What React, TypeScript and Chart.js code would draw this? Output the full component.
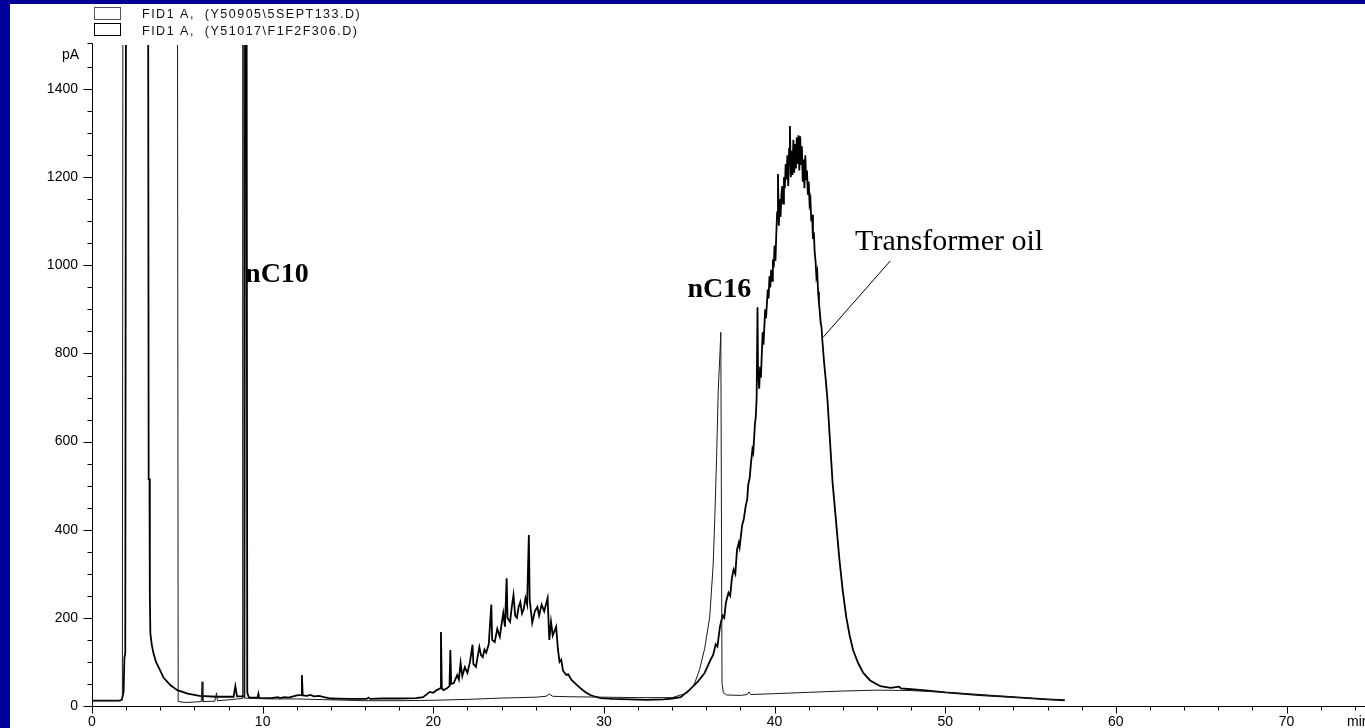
import React, { useEffect, useRef } from 'react';
import { Chart, registerables } from 'chart.js';

Chart.register(...registerables);

// Off-scale (detector trace leaves the plotted range)
const OFF = 2000;

// ---- Trace 1: FID1 A, (Y50905\5SEPT133.D) — [min, pA]
const traceAEarly: [number, number][] = [
  [0, 12], [1.7, 12], [1.78, 20], [1.82, OFF], [5.0, OFF], [5.05, 10], [5.5, 8], [6.0, 9],
  [6.4, 10], [6.45, 55], [6.5, 10], [7.2, 11], [7.3, 30], [7.35, 12], [8.0, 14], [8.5, 16],
  [8.8, 17], [8.83, OFF], [8.88, OFF], [8.92, 18], [9.5, 17], [10.5, 16], [12, 16], [14, 14],
  [16, 12], [18, 12],
];
const traceAMid: [number, number][] = [
  [20, 13], [22, 15], [24, 18], [25, 19], [26, 20], [26.6, 22], [26.8, 27], [27.0, 22],
  [28, 21], [30, 20], [32, 19], [34, 19], [34.9, 30], [35.3, 50], [35.6, 82], [35.9, 130],
  [36.2, 202], [36.4, 320], [36.5, 430], [36.6, 560], [36.7, 718], [36.8, 800], [36.85, 848],
  [36.88, 500], [36.92, 52], [37.0, 30], [37.2, 25],
];
const traceALate: [number, number][] = [
  [38.0, 24], [38.4, 26], [38.5, 32], [38.6, 26], [40, 28], [42, 31], [44, 34], [46, 36],
  [48, 35], [50, 31], [52, 25], [54, 20], [56, 15], [57, 13],
];

// ---- Trace 2: FID1 A, (Y51017\F1F2F306.D) — [min, pA]
const traceBEarly: [number, number][] = [
  [0, 12], [1.6, 12], [1.75, 14], [1.85, 32], [1.9, 110], [1.95, 120], [2.0, OFF], [3.28, OFF],
  [3.32, 515], [3.37, 515], [3.39, 250], [3.42, 165], [3.5, 140], [3.6, 120], [3.75, 100],
  [3.9, 88], [4.2, 64], [4.6, 47], [5.0, 36], [5.6, 28], [6.3, 23], [7.3, 21], [8.3, 21],
  [8.4, 45], [8.5, 22], [8.93, 22], [8.98, OFF], [9.05, OFF], [9.1, 30], [9.2, 19], [9.7, 19],
  [9.75, 28], [9.8, 18], [10.5, 18], [10.9, 20], [11.0, 18], [11.3, 20], [11.5, 19], [11.8, 22],
  [12.0, 24], [12.25, 25], [12.3, 70], [12.35, 24], [12.6, 23], [12.8, 25], [13.0, 22],
  [13.3, 23], [13.6, 20], [14.0, 17], [15, 16], [16.1, 16], [16.2, 19], [16.3, 16], [17, 17],
  [18, 17], [19, 18], [19.4, 20],
];
const traceBUcm: [number, number][] = [
  [19.8, 32], [20.0, 30], [20.2, 36], [20.4, 40], [20.45, 168], [20.5, 40], [20.6, 36],
  [20.8, 40], [20.95, 45], [21.0, 127], [21.05, 50], [21.2, 52], [21.4, 70], [21.5, 60],
  [21.6, 98], [21.7, 68], [21.85, 88], [22.0, 75], [22.15, 100], [22.3, 139], [22.35, 95],
  [22.5, 89], [22.6, 112], [22.7, 134], [22.8, 115], [22.9, 111], [23.0, 128], [23.1, 121],
  [23.25, 140], [23.4, 230], [23.45, 150], [23.6, 145], [23.75, 175], [23.9, 157], [24.0, 185],
  [24.1, 211], [24.2, 180], [24.3, 290], [24.35, 200], [24.5, 191], [24.6, 225], [24.7, 252],
  [24.8, 205], [24.9, 200], [25.0, 225], [25.1, 236], [25.2, 210], [25.3, 220], [25.4, 245],
  [25.5, 230], [25.6, 388], [25.65, 240], [25.8, 189], [25.95, 215], [26.1, 225], [26.2, 205],
  [26.35, 230], [26.5, 215], [26.7, 245], [26.8, 150], [26.9, 191], [27.0, 160], [27.2, 180],
  [27.3, 130], [27.4, 100], [27.5, 105], [27.6, 80], [27.8, 70], [27.9, 72], [28.1, 59],
  [28.3, 52], [28.6, 41], [28.9, 32], [29.2, 25], [29.5, 21], [29.8, 18],
];
const traceBBase: [number, number][] = [
  [30.5, 16], [31.5, 15], [32.5, 14], [33.5, 15], [34.0, 17], [34.5, 20],
];
const traceBOil: [number, number][] = [
  [35.0, 36], [35.5, 55], [35.9, 75], [36.1, 92], [36.25, 105], [36.4, 116], [36.55, 140],
  [36.65, 135], [36.8, 180], [36.95, 205], [37.05, 200], [37.15, 235], [37.3, 257], [37.4, 250],
  [37.5, 290], [37.6, 310], [37.7, 300], [37.8, 355], [37.9, 370], [37.95, 360], [38.1, 410],
  [38.2, 425], [38.3, 452], [38.4, 470], [38.45, 500], [38.55, 520], [38.6, 545], [38.7, 582],
  [38.75, 575], [38.85, 640], [38.9, 657], [38.95, 700], [39.0, 905], [39.03, 760], [39.1, 720],
  [39.15, 770], [39.2, 745], [39.3, 848], [39.35, 820], [39.45, 900], [39.5, 880], [39.6, 945],
  [39.65, 925], [39.7, 975], [39.75, 950], [39.8, 990], [39.85, 965], [39.9, 1013],
  [39.95, 995], [40.0, 1045], [40.05, 1010], [40.1, 1070], [40.15, 1120], [40.2, 1207],
  [40.25, 1090], [40.3, 1150], [40.35, 1110], [40.4, 1160], [40.45, 1180], [40.5, 1140],
  [40.55, 1200], [40.6, 1175], [40.65, 1230], [40.7, 1195], [40.75, 1250], [40.8, 1180],
  [40.85, 1265], [40.9, 1316], [40.95, 1200], [41.0, 1260], [41.05, 1205], [41.1, 1285],
  [41.15, 1210], [41.2, 1275], [41.25, 1220], [41.3, 1290], [41.35, 1230], [41.4, 1295],
  [41.45, 1215], [41.5, 1293], [41.55, 1230], [41.6, 1270], [41.65, 1190], [41.7, 1240],
  [41.75, 1175], [41.8, 1250], [41.85, 1195], [41.9, 1215], [41.95, 1160], [42.0, 1190],
  [42.05, 1140], [42.1, 1150], [42.15, 1100], [42.2, 1115], [42.25, 1060], [42.3, 1075],
  [42.35, 1030], [42.4, 1010], [42.45, 975], [42.5, 985], [42.55, 940], [42.6, 915],
  [42.65, 895], [42.7, 870], [42.75, 860], [42.8, 830], [42.9, 780], [43.0, 740], [43.1, 695],
  [43.25, 600], [43.4, 507], [43.6, 420], [43.8, 332], [44.0, 260], [44.2, 202], [44.4, 160],
  [44.6, 127], [44.9, 97], [45.2, 75], [45.6, 58], [46.2, 45],
];
const traceBTail: [number, number][] = [
  [46.8, 41], [47.3, 44], [47.4, 40], [48.0, 38], [49, 35], [50, 31], [52, 25], [54, 20],
  [56, 15], [57, 13],
];

// Axis labels
const xTickLabels = [0, 10, 20, 30, 40, 50, 60, 70];
const yTickLabels = [0, 200, 400, 600, 800, 1000, 1200, 1400];
const legendLabels = ['FID1 A,  (Y50905\\5SEPT133.D)', 'FID1 A,  (Y51017\\F1F2F306.D)'];
const peakNames = ['nC10', 'nC16'];
const oilLabel = 'Transformer oil';

const toXY = (pts: [number, number][]) => pts.map(([x, y]) => ({ x, y }));

const SANS = "Arial, 'Liberation Sans', sans-serif";
const SERIF = "'Times New Roman', 'Liberation Serif', serif";

const decorPlugin = {
  id: 'decor',
  afterDraw(chart: any) {
    const { ctx, chartArea, scales } = chart;
    const xs = scales.x;
    const ys = scales.y;
    ctx.save();
    ctx.strokeStyle = '#000';
    ctx.fillStyle = '#000';
    ctx.lineWidth = 1;

    // axes
    const ax = Math.round(chartArea.left) + 0.5;
    const ay = Math.round(chartArea.bottom) + 0.5;
    ctx.beginPath();
    ctx.moveTo(ax, Math.round(chartArea.top) - 1.5);
    ctx.lineTo(ax, ay);
    ctx.lineTo(chart.width, ay);
    ctx.stroke();

    // y ticks every 50
    ctx.beginPath();
    for (let v = 0; v <= 1500; v += 50) {
      const py = Math.round(ys.getPixelForValue(v)) + 0.5 - (v === 1500 ? 2 : 0);
      const len = v % 200 === 0 ? 9 : 5;
      ctx.moveTo(ax - len, py);
      ctx.lineTo(ax, py);
    }
    // x ticks every 2
    for (let v = 0; v <= 74; v += 2) {
      const px = Math.round(xs.getPixelForValue(v)) + 0.5;
      const len = v % 10 === 0 ? 7 : 4;
      ctx.moveTo(px, ay);
      ctx.lineTo(px, ay + len);
    }
    ctx.stroke();

    // unit labels
    ctx.font = `14px ${SANS}`;
    ctx.textBaseline = 'middle';
    ctx.textAlign = 'right';
    ctx.fillText('pA', chartArea.left - 13, chartArea.top + 10);
    ctx.textAlign = 'left';
    ctx.fillText('min', 1337, chartArea.bottom + 16.5);

    // legend
    (ctx as any).letterSpacing = '1.5px';
    ctx.font = `12.5px ${SANS}`;
    ctx.textBaseline = 'alphabetic';
    ctx.strokeStyle = '#555';
    ctx.strokeRect(84.5, 3.5, 26, 12);
    ctx.strokeStyle = '#000';
    ctx.strokeRect(84.5, 19.5, 26, 12);
    ctx.fillStyle = '#111';
    ctx.fillText(legendLabels[0], 132, 14);
    ctx.fillText(legendLabels[1], 132, 31);
    (ctx as any).letterSpacing = '0px';

    // peak annotations
    ctx.fillStyle = '#000';
    ctx.font = `bold 28px ${SERIF}`;
    ctx.fillText(peakNames[0], xs.getPixelForValue(8.97), ys.getPixelForValue(962));
    ctx.fillText(peakNames[1], xs.getPixelForValue(34.9), ys.getPixelForValue(928));
    ctx.font = `30px ${SERIF}`;
    ctx.fillText(oilLabel, xs.getPixelForValue(44.72), ys.getPixelForValue(1035));

    // leader line
    ctx.lineWidth = 1;
    ctx.beginPath();
    ctx.moveTo(xs.getPixelForValue(46.78), ys.getPixelForValue(1010));
    ctx.lineTo(xs.getPixelForValue(42.85), ys.getPixelForValue(837));
    ctx.stroke();
    ctx.restore();
  },
};

export default function App() {
  const ref = useRef<HTMLCanvasElement>(null);

  useEffect(() => {
    const canvas = ref.current;
    if (!canvas) return;
    const chart = new Chart(canvas, {
      type: 'line',
      data: {
        datasets: [
          {
            label: legendLabels[0],
            data: toXY([...traceAEarly, ...traceAMid, ...traceALate]),
            borderColor: '#1a1a1a',
            borderWidth: 1,
            pointRadius: 0,
            tension: 0,
            fill: false,
          },
          {
            label: legendLabels[1],
            data: toXY([...traceBEarly, ...traceBUcm, ...traceBBase, ...traceBOil, ...traceBTail]),
            borderColor: '#000',
            borderWidth: 1.8,
            pointRadius: 0,
            tension: 0,
            fill: false,
          },
        ],
      },
      options: {
        animation: false,
        responsive: false,
        devicePixelRatio: 1,
        events: [],
        layout: { padding: { top: 41, left: 0, right: 0, bottom: 0 } },
        plugins: { legend: { display: false }, tooltip: { enabled: false } },
        scales: {
          x: {
            type: 'linear',
            min: 0,
            max: 74.6,
            border: { display: false },
            grid: { display: false, drawTicks: false },
            ticks: {
              stepSize: 10,
              autoSkip: false,
              maxRotation: 0,
              padding: 8,
              color: '#000',
              font: { family: SANS, size: 14 },
              callback: (v: any) => (xTickLabels.includes(Number(v)) ? String(v) : ''),
            },
            afterFit: (s: any) => {
              s.height = 22;
              s.paddingLeft = 0;
              s.paddingRight = 0;
            },
          },
          y: {
            type: 'linear',
            min: 0,
            max: 1500,
            border: { display: false },
            grid: { display: false, drawTicks: false },
            ticks: {
              stepSize: 200,
              autoSkip: false,
              padding: 14,
              color: '#000',
              font: { family: SANS, size: 14 },
              callback: (v: any) => (yTickLabels.includes(Number(v)) ? String(v) : ''),
            },
            afterFit: (s: any) => {
              s.width = 82;
              s.paddingTop = 0;
              s.paddingBottom = 0;
            },
          },
        },
      },
      plugins: [decorPlugin],
    } as any);
    return () => chart.destroy();
  }, []);

  return (
    <div
      style={{
        position: 'fixed',
        left: 0,
        top: 0,
        width: 1365,
        height: 728,
        background: '#000099',
        overflow: 'hidden',
      }}
    >
      <div style={{ position: 'absolute', left: 10, top: 4, width: 1355, height: 724, background: '#fff' }}>
        <canvas ref={ref} width={1355} height={724} style={{ display: 'block' }} />
      </div>
    </div>
  );
}
